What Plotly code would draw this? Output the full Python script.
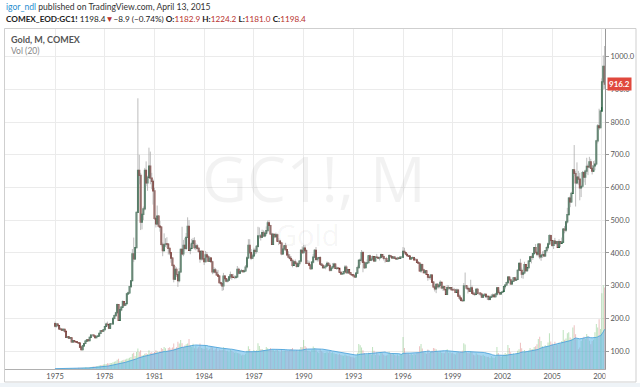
import pandas as pd
import plotly.graph_objects as go

# ---------------- data (monthly COMEX gold) ----------------
START_MONTH = "1975-01-01"
FIRST_OPEN = 184.0

CLOSES = [
    176, 182, 178, 168, 166, 164, 166, 160, 142, 143, 139, 140,   # 1975
    128, 132, 129, 128, 126, 124, 112, 104, 116, 123, 130, 134,   # 1976
    132, 142, 149, 149, 146, 141, 145, 146, 154, 162, 161, 165,   # 1977
    175, 182, 181, 170, 183, 183, 200, 208, 217, 242, 194, 226,   # 1978
    234, 251, 240, 245, 275, 278, 297, 315, 397, 382, 416, 524,   # 1979
    653, 637, 494, 518, 535, 653, 614, 631, 666, 629, 619, 590,   # 1980
    506, 489, 513, 482, 479, 426, 407, 425, 428, 427, 414, 400,   # 1981
    384, 362, 320, 350, 334, 315, 342, 411, 397, 423, 414, 448,   # 1982
    481, 408, 414, 429, 437, 416, 422, 414, 405, 382, 405, 382,   # 1983
    373, 394, 388, 375, 384, 373, 342, 348, 341, 333, 329, 309,   # 1984
    306, 299, 329, 321, 314, 317, 327, 333, 326, 325, 325, 327,   # 1985
    350, 338, 344, 346, 343, 345, 357, 385, 423, 401, 384, 391,   # 1986
    408, 405, 420, 452, 452, 448, 462, 452, 460, 468, 492, 484,   # 1987
    458, 426, 457, 450, 455, 436, 436, 430, 397, 412, 422, 410,   # 1988
    394, 387, 383, 377, 362, 373, 368, 359, 367, 375, 408, 401,   # 1989
    415, 407, 368, 368, 363, 352, 372, 387, 408, 380, 384, 386,   # 1990
    366, 362, 355, 357, 360, 368, 362, 347, 354, 358, 366, 353,   # 1991
    354, 353, 341, 336, 337, 343, 357, 340, 349, 339, 334, 333,   # 1992
    330, 327, 338, 355, 377, 378, 401, 371, 355, 369, 370, 391,   # 1993
    378, 381, 389, 376, 387, 386, 384, 386, 395, 389, 383, 383,   # 1994
    375, 376, 392, 389, 385, 387, 383, 382, 384, 383, 387, 387,   # 1995
    405, 401, 396, 392, 390, 382, 385, 386, 379, 379, 371, 369,   # 1996
    345, 364, 348, 340, 345, 334, 326, 325, 332, 311, 296, 290,   # 1997
    304, 297, 301, 310, 293, 296, 288, 273, 294, 292, 294, 288,   # 1998
    287, 287, 279, 286, 268, 262, 255, 254, 299, 299, 292, 290,   # 1999
    283, 293, 277, 274, 273, 289, 277, 277, 274, 265, 270, 273,   # 2000
    266, 267, 258, 264, 267, 271, 266, 274, 293, 279, 275, 279,   # 2001
    282, 297, 302, 309, 326, 318, 305, 313, 324, 317, 319, 347,   # 2002
    368, 347, 335, 339, 364, 346, 355, 375, 388, 386, 398, 416,   # 2003
    402, 396, 427, 388, 393, 395, 391, 407, 416, 428, 453, 438,   # 2004
    423, 436, 429, 435, 417, 435, 429, 433, 473, 470, 495, 517,   # 2005
    568, 556, 582, 654, 643, 614, 632, 626, 599, 604, 646, 632,   # 2006
    650, 665, 663, 679, 659, 650, 666, 672, 743, 789, 783, 834,   # 2007
    923, 971, 916.2,                                              # 2008
]

HIGHS = [
    190, 186, 184, 178, 172, 168, 168, 167, 160, 146, 144, 141,
    141, 134, 133, 130, 129, 127, 124, 113, 117, 125, 131, 136,
    136, 143, 150, 151, 150, 147, 146, 147, 155, 164, 164, 166,
    176, 187, 190, 181, 184, 186, 201, 212, 220, 245, 243, 227,
    237, 255, 252, 247, 278, 282, 299, 317, 412, 447, 417, 525,
    873, 700, 645, 520, 542, 660, 680, 636, 722, 710, 645, 625,
    600, 510, 545, 515, 498, 480, 432, 460, 445, 448, 430, 415,
    400, 386, 363, 360, 356, 340, 354, 412, 480, 440, 446, 461,
    509, 500, 427, 443, 446, 448, 430, 427, 418, 405, 408, 405,
    387, 406, 403, 393, 390, 385, 376, 357, 354, 349, 348, 330,
    312, 309, 339, 332, 322, 322, 329, 343, 335, 336, 331, 332,
    360, 355, 348, 351, 348, 350, 363, 390, 442, 442, 412, 398,
    416, 414, 424, 480, 478, 458, 471, 469, 467, 481, 499, 500,
    486, 462, 460, 457, 462, 459, 445, 440, 431, 417, 423, 431,
    412, 405, 396, 390, 379, 377, 380, 373, 371, 378, 412, 420,
    424, 423, 411, 378, 376, 366, 372, 397, 412, 418, 388, 388,
    390, 369, 365, 363, 366, 374, 372, 369, 357, 369, 370, 368,
    359, 356, 349, 344, 340, 345, 363, 362, 351, 349, 340, 336,
    334, 334, 339, 361, 380, 384, 409, 406, 373, 372, 380, 392,
    395, 389, 392, 389, 388, 397, 390, 389, 398, 396, 396, 385,
    388, 381, 396, 394, 391, 390, 390, 387, 388, 387, 390, 389,
    418, 416, 402, 396, 394, 391, 387, 389, 388, 384, 383, 375,
    369, 368, 367, 352, 348, 346, 334, 331, 335, 335, 314, 300,
    306, 307, 305, 316, 310, 301, 296, 289, 302, 301, 296, 295,
    294, 293, 290, 291, 290, 273, 262, 260, 308, 340, 300, 298,
    292, 318, 300, 286, 280, 293, 293, 280, 278, 275, 271, 276,
    275, 268, 267, 266, 274, 276, 273, 278, 296, 294, 285, 280,
    285, 298, 305, 312, 328, 328, 325, 316, 326, 326, 328, 349,
    369, 382, 355, 343, 373, 365, 355, 377, 390, 392, 400, 417,
    427, 418, 427, 430, 398, 405, 407, 409, 420, 432, 457, 456,
    438, 439, 446, 437, 437, 442, 436, 447, 474, 482, 497, 538,
    571, 575, 587, 656, 730, 650, 677, 651, 645, 609, 651, 649,
    655, 691, 673, 694, 688, 669, 681, 683, 746, 794, 841, 837,
    934, 1004, 1033,
]

LOWS = [
    172, 172, 176, 165, 163, 162, 161, 156, 140, 139, 137, 137,
    125, 127, 128, 126, 124, 122, 111, 103, 103, 115, 122, 129,
    130, 131, 141, 145, 143, 140, 140, 143, 146, 152, 157, 159,
    163, 174, 176, 167, 170, 180, 182, 197, 205, 215, 193, 194,
    222, 234, 236, 238, 245, 274, 276, 293, 315, 372, 380, 415,
    522, 610, 470, 472, 500, 530, 604, 590, 630, 610, 595, 548,
    500, 478, 486, 478, 465, 420, 390, 407, 418, 415, 395, 393,
    370, 358, 310, 318, 327, 296, 310, 339, 393, 390, 408, 409,
    448, 408, 396, 414, 425, 411, 408, 410, 401, 370, 377, 377,
    363, 372, 375, 373, 375, 370, 335, 337, 338, 331, 328, 307,
    299, 284, 286, 314, 310, 310, 314, 320, 318, 325, 320, 320,
    325, 334, 336, 341, 341, 342, 344, 352, 385, 398, 378, 382,
    391, 396, 398, 416, 444, 438, 447, 449, 448, 453, 462, 478,
    456, 425, 425, 445, 448, 436, 424, 429, 393, 395, 407, 405,
    390, 384, 380, 372, 356, 362, 363, 355, 356, 359, 370, 397,
    400, 400, 366, 368, 362, 349, 350, 368, 385, 375, 374, 374,
    365, 360, 352, 353, 350, 358, 360, 343, 344, 354, 356, 352,
    348, 350, 341, 335, 333, 336, 341, 337, 336, 337, 331, 331,
    325, 326, 326, 336, 353, 364, 371, 341, 351, 354, 365, 369,
    377, 375, 377, 372, 374, 384, 381, 377, 383, 386, 377, 370,
    374, 372, 375, 386, 382, 384, 381, 379, 381, 381, 383, 383,
    387, 399, 393, 390, 390, 381, 380, 384, 379, 379, 370, 367,
    345, 339, 346, 339, 338, 334, 315, 319, 318, 311, 294, 282,
    277, 292, 291, 298, 289, 284, 286, 273, 271, 286, 287, 285,
    284, 286, 278, 280, 266, 256, 252, 251, 254, 294, 288, 276,
    282, 282, 276, 271, 268, 273, 276, 271, 268, 262, 263, 267,
    263, 257, 255, 255, 262, 263, 264, 264, 269, 276, 271, 274,
    278, 285, 289, 300, 307, 315, 303, 304, 311, 314, 315, 318,
    344, 347, 323, 321, 335, 344, 343, 350, 375, 368, 379, 397,
    398, 390, 390, 381, 376, 385, 387, 390, 401, 410, 426, 434,
    418, 412, 425, 424, 417, 419, 418, 430, 434, 460, 464, 490,
    517, 540, 554, 583, 635, 542, 610, 609, 561, 571, 600, 616,
    608, 642, 638, 661, 658, 640, 652, 653, 668, 735, 776, 782,
    846, 900, 902,
]

VOLUMES = [
    2, 2, 3, 3, 3, 3, 3, 4, 4, 4, 5, 5,
    5, 5, 6, 6, 6, 7, 7, 8, 8, 9, 10, 10,
    10, 11, 12, 13, 14, 15, 16, 18, 20, 22, 24, 26,
    28, 30, 34, 32, 35, 36, 40, 42, 45, 55, 60, 46,
    48, 52, 55, 56, 60, 62, 66, 70, 90, 95, 76, 100,
    120, 100, 110, 80, 82, 90, 92, 88, 110, 96, 98, 94,
    100, 110, 104, 96, 106, 124, 118, 130, 122, 108, 124, 128,
    120, 126, 150, 120, 128, 160, 150, 170, 152, 130, 138, 146,
    150, 176, 140, 130, 148, 122, 136, 120, 128, 150, 124, 120,
    118, 140, 124, 110, 118, 132, 126, 110, 116, 128, 104, 114,
    110, 112, 128, 118, 104, 108, 100, 116, 108, 100, 96, 98,
    94, 92, 90, 80, 84, 82, 90, 108, 134, 118, 100, 98,
    112, 104, 110, 152, 136, 116, 118, 112, 110, 130, 122, 112,
    124, 114, 112, 104, 110, 116, 104, 100, 118, 104, 108, 110,
    108, 104, 112, 118, 124, 108, 104, 112, 102, 114, 130, 128,
    170, 136, 126, 108, 104, 102, 112, 132, 124, 114, 100, 96,
    118, 104, 98, 94, 96, 102, 96, 104, 94, 98, 92, 88,
    88, 84, 90, 82, 80, 78, 86, 80, 76, 78, 72, 70,
    68, 66, 74, 96, 147, 140, 126, 110, 94, 86, 84, 96,
    90, 84, 130, 108, 82, 98, 86, 80, 100, 92, 84, 78,
    80, 84, 102, 94, 86, 90, 82, 80, 86, 78, 84, 88,
    188, 124, 96, 90, 92, 84, 90, 82, 88, 86, 94, 96,
    134, 147, 120, 98, 96, 90, 114, 96, 102, 108, 124, 120,
    116, 102, 98, 106, 96, 94, 92, 104, 116, 96, 98, 92,
    94, 88, 86, 96, 100, 94, 102, 108, 152, 144, 102, 94,
    92, 104, 98, 84, 80, 92, 84, 82, 80, 78, 84, 76,
    74, 70, 72, 64, 76, 68, 64, 74, 129, 94, 78, 70,
    78, 84, 94, 88, 141, 124, 98, 84, 92, 82, 88, 108,
    116, 154, 122, 96, 112, 102, 98, 108, 124, 114, 118, 130,
    134, 146, 176, 190, 164, 134, 128, 140, 132, 156, 211, 162,
    148, 138, 160, 146, 142, 156, 148, 164, 229, 172, 180, 210,
    216, 186, 178, 244, 258, 204, 176, 116, 126, 164, 176, 190,
    176, 206, 192, 166, 146, 164, 172, 216, 264, 244, 293, 236,
    446, 493, 480,
]

VOL_MA_LEN = 20

HEADER_USER = "igor_ndl"
HEADER_SITE = " published on TradingView.com, April 13, 2015"
SYMBOL = "COMEX_EOD:GC1!"
LAST, CHG, CHG_PCT = "1198.4", "\u22128.9", "\u22120.74%"
O, Hh, Ll, C = "1182.9", "1224.2", "1181.0", "1198.4"

# ---------------- derived series ----------------
dates = pd.date_range(START_MONTH, periods=len(CLOSES), freq="MS")
opens = [FIRST_OPEN] + CLOSES[:-1]
body_hi = [max(o, c) for o, c in zip(opens, CLOSES)]
body_lo = [min(o, c) for o, c in zip(opens, CLOSES)]
up = [c >= o for o, c in zip(opens, CLOSES)]
vol_ma = pd.Series(VOLUMES, dtype=float).rolling(VOL_MA_LEN, min_periods=1).mean()

wx, wy = [], []
for d, h, l in zip(dates, HIGHS, LOWS):
    wx += [d, d, None]
    wy += [l, h, None]

# ---------------- layout geometry ----------------
W, H = 640, 387
ML, MR, MT, MB = 5, 35, 29, 18
PW, PH = W - ML - MR, H - MT - MB


def px(x):
    return (x - ML) / PW


def py(y):
    return (H - MB - y) / PH


FONT = "Lato"
fig = go.Figure()

# volume bars
fig.add_trace(go.Bar(
    x=dates, y=VOLUMES, yaxis="y2",
    marker=dict(color=["rgba(120,195,120,0.5)" if u else "rgba(220,125,125,0.5)" for u in up],
                line=dict(width=0)),
    hoverinfo="skip", showlegend=False,
))
# volume MA area
fig.add_trace(go.Scatter(
    x=dates, y=vol_ma, yaxis="y2", mode="lines",
    line=dict(color="rgba(80,165,220,0.9)", width=1),
    fill="tozeroy", fillcolor="rgba(100,185,232,0.58)",
    hoverinfo="skip", showlegend=False,
))
# wicks
fig.add_trace(go.Scatter(
    x=wx, y=wy, mode="lines", line=dict(color="rgba(160,160,160,0.7)", width=1),
    hoverinfo="skip", showlegend=False,
))
# bodies
fig.add_trace(go.Candlestick(
    x=dates, open=opens, high=body_hi, low=body_lo, close=CLOSES,
    increasing=dict(fillcolor="#2f8055", line=dict(color="#23603f", width=1.2)),
    decreasing=dict(fillcolor="#a02c24", line=dict(color="#74221c", width=1.2)),
    whiskerwidth=0, showlegend=False, hoverinfo="skip",
))

grid = "#ebebeb"
fig.update_layout(
    width=W, height=H,
    margin=dict(l=ML, r=MR, t=MT, b=MB),
    paper_bgcolor="white", plot_bgcolor="white",
    font=dict(family=FONT, color="#555"),
    showlegend=False,
    xaxis=dict(
        type="date", range=["1971-12-25", "2008-03-10"],
        tick0="1975-01-01", dtick="M36", tickformat="%Y",
        showgrid=True, gridcolor=grid, gridwidth=1,
        showline=True, linecolor="#b0b0b0", linewidth=1,
        ticks="", tickfont=dict(size=7.5, color="#555"),
        rangeslider=dict(visible=False), zeroline=False,
    ),
    yaxis=dict(
        side="right", range=[45, 1085], tick0=100, dtick=100, tickformat=".1f",
        showgrid=True, gridcolor=grid, gridwidth=1,
        showline=True, linecolor="#999", linewidth=1,
        ticks="outside", ticklen=3, tickcolor="#999",
        tickfont=dict(size=7.5, color="#555"), zeroline=False,
    ),
    yaxis2=dict(overlaying="y", range=[0, 2000], visible=False),
    bargap=0.25,
)

ann = []
# header
ann.append(dict(xref="paper", yref="paper", x=px(4), y=py(7), xanchor="left", yanchor="middle",
                showarrow=False, font=dict(size=8.6, color="#333", family=FONT),
                text=f"<span style='color:#2a8fd0'>{HEADER_USER}</span>{HEADER_SITE}"))
red = "#b8322d"
ann.append(dict(xref="paper", yref="paper", x=px(4), y=py(19), xanchor="left", yanchor="middle",
                showarrow=False, font=dict(size=8.2, color="#222", family=FONT),
                text=(f"<b>{SYMBOL}</b> {LAST}<span style='color:{red}'>\u25bc</span>{CHG} ({CHG_PCT}) "
                      f"<b>O:</b><span style='color:{red}'>{O}</span> <b>H:</b><span style='color:{red}'>{Hh}</span> "
                      f"<b>L:</b><span style='color:{red}'>{Ll}</span> <b>C:</b><span style='color:{red}'>{C}</span>")))
# legend-ish labels
ann.append(dict(xref="paper", yref="paper", x=px(9), y=py(39), xanchor="left", yanchor="middle",
                showarrow=False, font=dict(size=9, color="#555", family=FONT), text="<b>Gold, M, COMEX</b>"))
ann.append(dict(xref="paper", yref="paper", x=px(9), y=py(51), xanchor="left", yanchor="middle",
                showarrow=False, font=dict(size=8.5, color="#888", family=FONT), text="Vol (20)"))
# watermark
ann.append(dict(xref="paper", yref="paper", x=px(314), y=py(178), xanchor="center", yanchor="middle",
                showarrow=False, font=dict(size=62, color="rgba(0,0,0,0.05)", family="Open Sans"), text="GC1!, M"))
ann.append(dict(xref="paper", yref="paper", x=px(308), y=py(234), xanchor="center", yanchor="middle",
                showarrow=False, font=dict(size=29, color="rgba(0,0,0,0.05)", family="Open Sans"), text="Gold"))
# last price label
ann.append(dict(xref="paper", yref="y", x=1, y=CLOSES[-1], xanchor="left", yanchor="middle", xshift=2,
                showarrow=False, bgcolor="#e0483d", borderpad=1,
                font=dict(size=8, color="white", family=FONT), text=f"<b>{CLOSES[-1]:.1f}</b>"))
fig.update_layout(annotations=ann)

shapes = [
    # cover the clipped end of last year label
    dict(type="rect", xref="paper", yref="paper", x0=px(605.6), x1=px(635.5), y0=py(381), y1=py(370),
         fillcolor="white", line=dict(width=0), layer="above"),
    # outer frame
    dict(type="rect", xref="paper", yref="paper", x0=px(4.5), x1=px(636), y0=py(382), y1=py(28.5),
         line=dict(color="#cfcfcf", width=1), layer="above"),
    # bottom page band
    dict(type="rect", xref="paper", yref="paper", x0=px(0), x1=px(640), y0=py(388), y1=py(383),
         fillcolor="#eef3f7", line=dict(width=0), layer="above"),
]
fig.update_layout(shapes=shapes)

fig.write_html("out.html", config={"displayModeBar": False},
               post_script="document.body.style.margin='0';document.body.style.overflow='hidden';")
